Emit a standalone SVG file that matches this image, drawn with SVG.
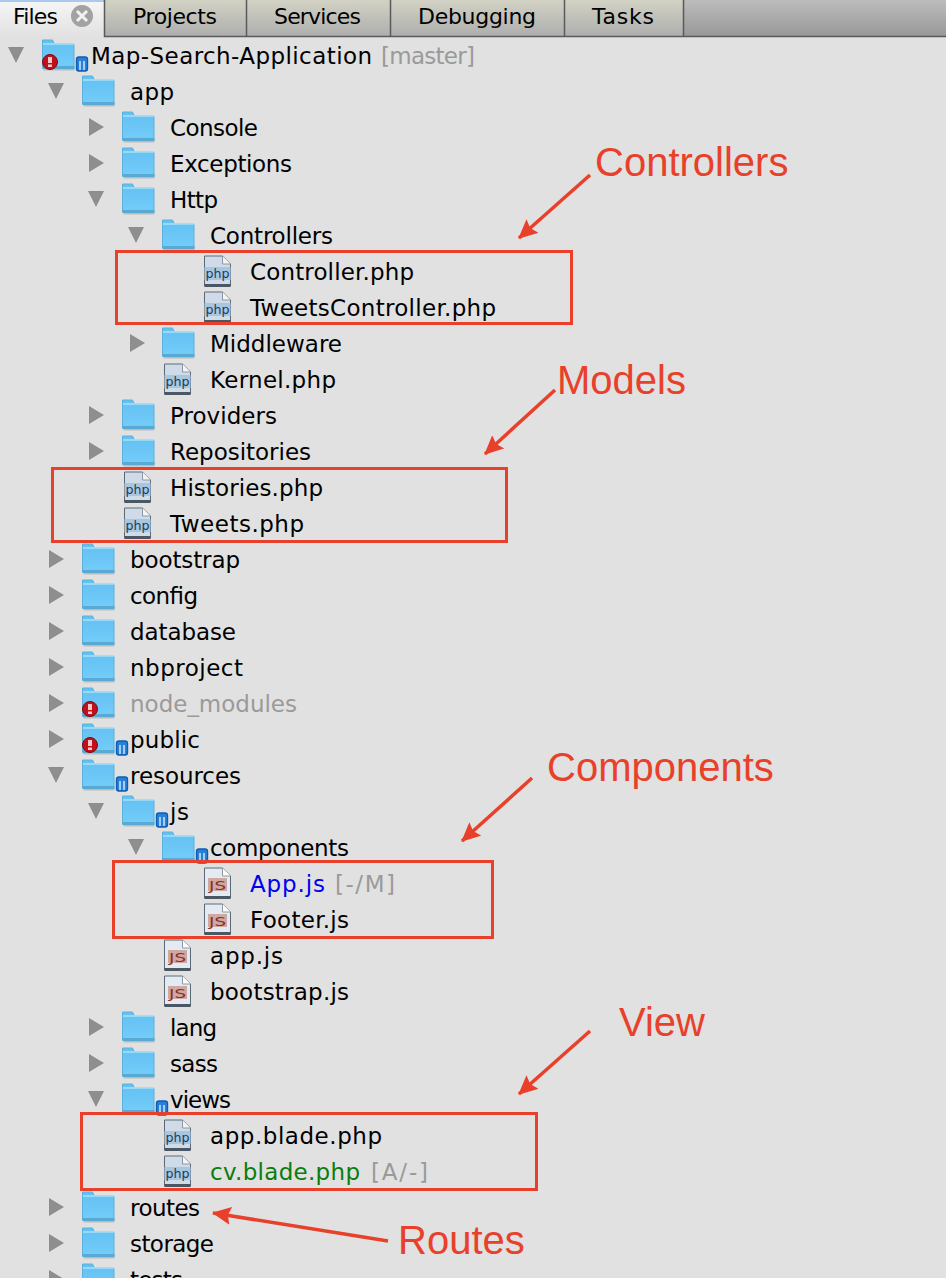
<svg xmlns="http://www.w3.org/2000/svg" width="946" height="1278" viewBox="0 0 946 1278">
<style>
.t{font-family:"DejaVu Sans","Liberation Sans",sans-serif;font-size:23px;fill:#000}
.g{fill:#9a9a9a}
.a{font-family:"Liberation Sans",Arial,sans-serif;font-size:40px;fill:#e8402a}
.r{fill:none;stroke:#e8402a;stroke-width:3}
.l{fill:none;stroke:#e8402a;stroke-width:3.500}
.tri{fill:#8e8e8e}
.tab{font-family:"DejaVu Sans","Liberation Sans",sans-serif;font-size:22px;fill:#000}
</style>
<defs>
<linearGradient id="tg" x1="0" y1="0" x2="0" y2="1"><stop offset="0" stop-color="#d2d2c4"/><stop offset="1" stop-color="#aeaeae"/></linearGradient>
<linearGradient id="tb" x1="0" y1="0" x2="0" y2="1"><stop offset="0" stop-color="#bcbcbc"/><stop offset="1" stop-color="#989898"/></linearGradient>
<linearGradient id="ta" x1="0" y1="0" x2="0" y2="1"><stop offset="0" stop-color="#f6f6f6"/><stop offset="1" stop-color="#e1e1e1"/></linearGradient>
<linearGradient id="fg" x1="0" y1="0" x2="0" y2="1"><stop offset="0" stop-color="#62c0f2"/><stop offset="1" stop-color="#74cdfa"/></linearGradient>
<marker id="ah" markerUnits="userSpaceOnUse" markerWidth="20" markerHeight="18" refX="18" refY="9" orient="auto"><path d="M0 0L19 9L0 18L3 9Z" fill="#e8402a"/></marker>
<symbol id="fo" overflow="visible"><path d="M0.500 -15h10l2 4h19.500v24h-31.500z" fill="url(#fg)" stroke="#5bb1dc" stroke-width="1"/><path d="M1 -11h31" stroke="#a8e2fb" stroke-width="1.500"/><rect x="0.500" y="11" width="32" height="3" fill="#5aa9d2"/><rect x="1.500" y="14" width="31" height="1.500" fill="#bcbcbc"/></symbol>
<symbol id="ph" overflow="visible"><path d="M0.500 -15h18l8 8v22h-26z" fill="#cfdbe8" stroke="#5c6a78" stroke-width="1"/><path d="M18.500 -15v8h8" fill="#f4f4f4" stroke="#8a98a6" stroke-width="1"/><rect x="0.500" y="-4" width="26" height="13" fill="#a9c6e0"/><text x="1.500" y="7" font-family="DejaVu Sans,sans-serif" font-size="13" fill="#1c3a58" textLength="24" lengthAdjust="spacingAndGlyphs">php</text><rect x="0.500" y="13" width="26" height="3" fill="#4a5866"/></symbol>
<symbol id="js" overflow="visible"><path d="M0.500 -15h18l8 8v22h-26z" fill="#e4eaf1" stroke="#5c6a78" stroke-width="1"/><path d="M18.500 -15v8h8" fill="#fff" stroke="#8a98a6" stroke-width="1"/><rect x="4" y="-5" width="19" height="13" fill="#cfa8a2"/><text x="5" y="7" font-family="DejaVu Sans,sans-serif" font-size="13" fill="#8a2f26" textLength="17" lengthAdjust="spacingAndGlyphs">JS</text><rect x="0.500" y="13" width="26" height="3" fill="#4a5866"/></symbol>
<symbol id="er" overflow="visible"><circle cx="0" cy="0" r="7.500" fill="#c0101c" stroke="#7c0a12" stroke-width="1"/><rect x="-2" y="-5" width="4" height="6" fill="#f3c8c8"/><rect x="-2" y="2.500" width="4" height="2.500" fill="#f3c8c8"/></symbol>
<symbol id="db" overflow="visible"><rect x="-5.500" y="-7" width="11" height="14" rx="2.500" fill="#2a7fd6" stroke="#0e5cb4" stroke-width="1.400"/><rect x="-3" y="-3" width="6" height="9" fill="#9fcff6"/><rect x="-1" y="-3" width="2" height="9" fill="#2a7fd6"/></symbol>
</defs>
<rect width="946" height="1278" fill="#e1e1e1"/>
<g id="tabs">
<rect x="684" y="0" width="262" height="36" fill="url(#tb)"/>
<rect x="104" y="0" width="580" height="36" fill="url(#tg)"/>
<rect x="0" y="0" width="104" height="38" fill="url(#ta)"/>
<rect x="0" y="0" width="104" height="2" fill="#a9c9ee"/>
<path d="M104.500 0V36.500H946M246.500 0V36M390.500 0V36M564.500 0V36M683.500 0V36" fill="none" stroke="#5a5a5a" stroke-width="1.500"/>
<text class="tab" x="13" y="24" textLength="45">Files</text>
<circle cx="82" cy="16" r="11" fill="#a2a2a2"/><path d="M77 11L87 21M87 11L77 21" stroke="#f2f2f2" stroke-width="3"/>
<text class="tab" x="133" y="24" textLength="84">Projects</text>
<text class="tab" x="274" y="24" textLength="87">Services</text>
<text class="tab" x="418" y="24" textLength="118">Debugging</text>
<text class="tab" x="592" y="24" textLength="62">Tasks</text>
</g>
<g id="tree">
<path class="tri" d="M8 47h16l-8 16zM48 83h16l-8 16zM88 191h16l-8 16zM128 227h16l-8 16zM48 767h16l-8 16zM88 803h16l-8 16zM128 839h16l-8 16zM88 1091h16l-8 16z"/>
<path class="tri" d="M89 118v18l15 -9zM89 154v18l15 -9zM130 334v18l15 -9zM89 406v18l15 -9zM89 442v18l15 -9zM49 550v18l15 -9zM49 586v18l15 -9zM49 622v18l15 -9zM49 658v18l15 -9zM49 694v18l15 -9zM49 730v18l15 -9zM89 1018v18l15 -9zM89 1054v18l15 -9zM49 1198v18l15 -9zM49 1234v18l15 -9zM49 1270v18l15 -9z"/>
<g id="n-root"><use href="#fo" x="42" y="55"/><use href="#er" x="50" y="62"/><use href="#db" x="82" y="64"/><text class="t" x="91" y="64" textLength="281">Map-Search-Application</text><text class="t g" x="381" y="64" textLength="94">[master]</text></g>
<g id="n-app"><use href="#fo" x="82" y="91"/><text class="t" x="130" y="100" textLength="44">app</text></g>
<g id="n-console"><use href="#fo" x="122" y="127"/><text class="t" x="170" y="136" textLength="88">Console</text></g>
<g id="n-exceptions"><use href="#fo" x="122" y="163"/><text class="t" x="170" y="172" textLength="122">Exceptions</text></g>
<g id="n-http"><use href="#fo" x="122" y="199"/><text class="t" x="170" y="208" textLength="48">Http</text></g>
<g id="n-controllers"><use href="#fo" x="162" y="235"/><text class="t" x="210" y="244" textLength="123">Controllers</text></g>
<g id="n-controller-php"><use href="#ph" x="204" y="271"/><text class="t" x="250" y="280" textLength="164">Controller.php</text></g>
<g id="n-tweetscontroller-php"><use href="#ph" x="204" y="307"/><text class="t" x="250" y="316" textLength="246">TweetsController.php</text></g>
<g id="n-middleware"><use href="#fo" x="162" y="343"/><text class="t" x="210" y="352" textLength="132">Middleware</text></g>
<g id="n-kernel-php"><use href="#ph" x="164" y="379"/><text class="t" x="210" y="388" textLength="126">Kernel.php</text></g>
<g id="n-providers"><use href="#fo" x="122" y="415"/><text class="t" x="170" y="424" textLength="107">Providers</text></g>
<g id="n-repositories"><use href="#fo" x="122" y="451"/><text class="t" x="170" y="460" textLength="141">Repositories</text></g>
<g id="n-histories-php"><use href="#ph" x="124" y="487"/><text class="t" x="170" y="496" textLength="153">Histories.php</text></g>
<g id="n-tweets-php"><use href="#ph" x="124" y="523"/><text class="t" x="170" y="532" textLength="134">Tweets.php</text></g>
<g id="n-bootstrap"><use href="#fo" x="82" y="559"/><text class="t" x="130" y="568" textLength="110">bootstrap</text></g>
<g id="n-config"><use href="#fo" x="82" y="595"/><text class="t" x="130" y="604" textLength="68">config</text></g>
<g id="n-database"><use href="#fo" x="82" y="631"/><text class="t" x="130" y="640" textLength="106">database</text></g>
<g id="n-nbproject"><use href="#fo" x="82" y="667"/><text class="t" x="130" y="676" textLength="113">nbproject</text></g>
<g id="n-node-modules"><use href="#fo" x="82" y="703"/><use href="#er" x="90" y="709"/><text class="t g" x="130" y="712" textLength="167">node_modules</text></g>
<g id="n-public"><use href="#fo" x="82" y="739"/><use href="#er" x="90" y="745"/><use href="#db" x="122" y="748"/><text class="t" x="130" y="748" textLength="70">public</text></g>
<g id="n-resources"><use href="#fo" x="82" y="775"/><use href="#db" x="122" y="784"/><text class="t" x="130" y="784" textLength="111">resources</text></g>
<g id="n-js"><use href="#fo" x="122" y="811"/><use href="#db" x="162" y="820"/><text class="t" x="170" y="820" textLength="19">js</text></g>
<g id="n-components"><use href="#fo" x="162" y="847"/><use href="#db" x="202" y="856"/><text class="t" x="210" y="856" textLength="139">components</text></g>
<g id="n-app-js"><use href="#js" x="204" y="883"/><text class="t" x="250" y="892" style="fill:#0000f0" textLength="75">App.js</text><text class="t g" x="335" y="892" textLength="60">[-/M]</text></g>
<g id="n-footer-js"><use href="#js" x="204" y="919"/><text class="t" x="250" y="928" textLength="99">Footer.js</text></g>
<g id="n-app-js2"><use href="#js" x="164" y="955"/><text class="t" x="210" y="964" textLength="73">app.js</text></g>
<g id="n-bootstrap-js"><use href="#js" x="164" y="991"/><text class="t" x="210" y="1000" textLength="139">bootstrap.js</text></g>
<g id="n-lang"><use href="#fo" x="122" y="1027"/><text class="t" x="170" y="1036" textLength="47">lang</text></g>
<g id="n-sass"><use href="#fo" x="122" y="1063"/><text class="t" x="170" y="1072" textLength="48">sass</text></g>
<g id="n-views"><use href="#fo" x="122" y="1099"/><use href="#db" x="162" y="1108"/><text class="t" x="170" y="1108" textLength="61">views</text></g>
<g id="n-app-blade"><use href="#ph" x="164" y="1135"/><text class="t" x="210" y="1144" textLength="172">app.blade.php</text></g>
<g id="n-cv-blade"><use href="#ph" x="164" y="1171"/><text class="t" x="210" y="1180" style="fill:#0a7d0a" textLength="150">cv.blade.php</text><text class="t g" x="371" y="1180" textLength="57">[A/-]</text></g>
<g id="n-routes"><use href="#fo" x="82" y="1207"/><text class="t" x="130" y="1216" textLength="70">routes</text></g>
<g id="n-storage"><use href="#fo" x="82" y="1243"/><text class="t" x="130" y="1252" textLength="84">storage</text></g>
<g id="n-tests"><use href="#fo" x="82" y="1279"/><text class="t" x="130" y="1288" textLength="53">tests</text></g>
</g>
<g id="callouts">
<rect class="r" x="116.500" y="251.500" width="455" height="72"/>
<rect class="r" x="52.500" y="468.500" width="454" height="73"/>
<rect class="r" x="113.500" y="861.500" width="379" height="76"/>
<rect class="r" x="81.500" y="1113.500" width="455" height="76"/>
<text class="a" x="595" y="176">Controllers</text>
<text class="a" x="557" y="394">Models</text>
<text class="a" x="547" y="781">Components</text>
<text class="a" x="619" y="1036">View</text>
<text class="a" x="398" y="1254">Routes</text>
</g>
<g id="connectors">
<path class="l" d="M590 175L519 238" marker-end="url(#ah)"/>
<path class="l" d="M555 390L485 454" marker-end="url(#ah)"/>
<path class="l" d="M532 778L462 841" marker-end="url(#ah)"/>
<path class="l" d="M590 1031L519 1094" marker-end="url(#ah)"/>
<path class="l" d="M388 1241L213 1213" marker-end="url(#ah)"/>
</g>
</svg>
